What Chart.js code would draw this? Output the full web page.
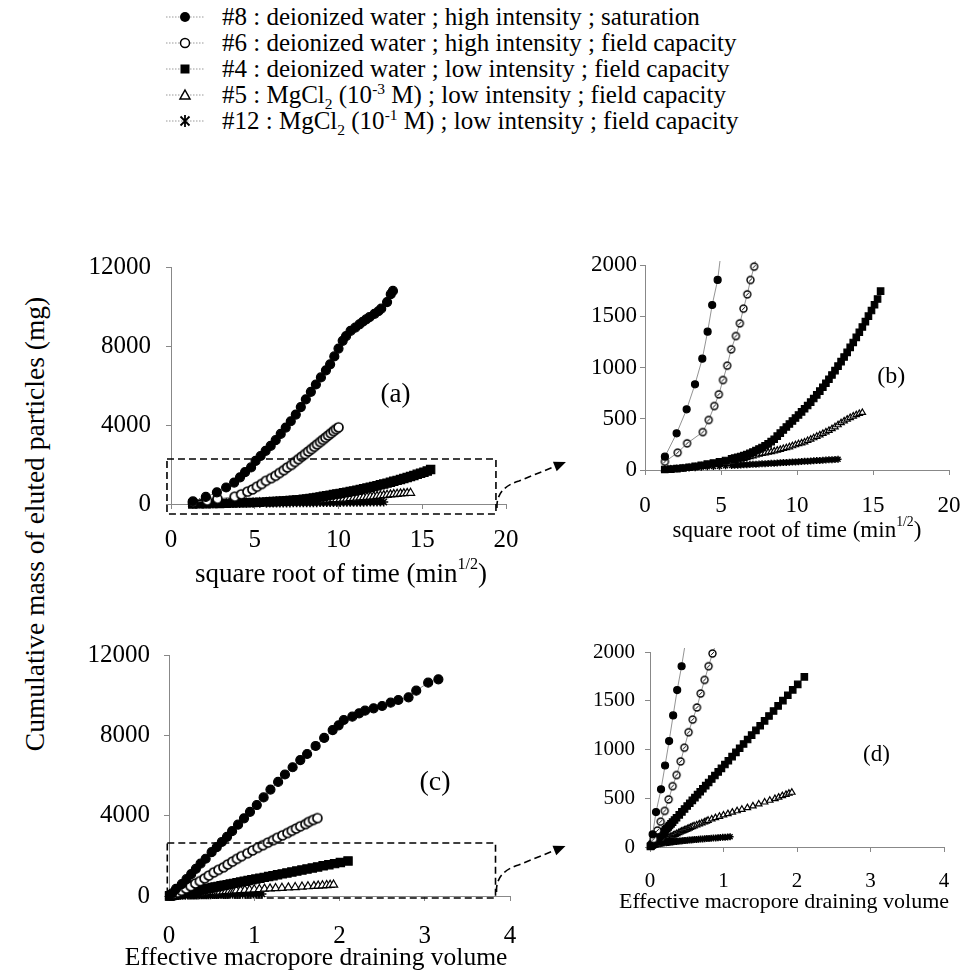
<!DOCTYPE html>
<html>
<head>
<meta charset="utf-8">
<script src="https://cdn.jsdelivr.net/npm/chart.js@4.4.1/dist/chart.umd.min.js"></script>
<style>
  body { margin: 0; background: #fff; width: 961px; height: 974px; position: relative; overflow: hidden;
         font-family: "Liberation Serif", "Times New Roman", serif; color: #000; }
  canvas { position: absolute; }
  .row { position: absolute; left: 0; height: 26px; line-height: 26px; font-size: 25px; white-space: nowrap; }
  .row svg { position: absolute; left: 165px; top: 5px; }
  .row span { position: absolute; left: 222px; top: 0; }
  sub, sup { font-size: 0.62em; line-height: 0; }
  #ytitle { position: absolute; left: 35px; top: 524px; transform: translate(-50%, -50%) rotate(-90deg);
            font-size: 27.5px; white-space: nowrap; }
</style>
</head>
<body>

<div id="legend">
  <div class="row" style="top:4px">
    <svg width="40" height="16"><line x1="1" y1="8" x2="39" y2="8" stroke="#999" stroke-dasharray="1.5,1.5"/><circle cx="20" cy="8" r="5" fill="#000"/></svg>
    <span>#8 : deionized water ; high intensity ; saturation</span></div>
  <div class="row" style="top:30px">
    <svg width="40" height="16"><line x1="1" y1="8" x2="39" y2="8" stroke="#999" stroke-dasharray="1.5,1.5"/><circle cx="20" cy="8" r="4.5" fill="#fff" stroke="#000" stroke-width="1.5"/></svg>
    <span>#6 : deionized water ; high intensity ; field capacity</span></div>
  <div class="row" style="top:56px">
    <svg width="40" height="16"><line x1="1" y1="8" x2="39" y2="8" stroke="#999" stroke-dasharray="1.5,1.5"/><rect x="15.5" y="3.5" width="9" height="9" fill="#000"/></svg>
    <span>#4 : deionized water ; low intensity ; field capacity</span></div>
  <div class="row" style="top:82px">
    <svg width="40" height="16"><line x1="1" y1="8" x2="39" y2="8" stroke="#999" stroke-dasharray="1.5,1.5"/><polygon points="20,3 25,12 15,12" fill="#fff" stroke="#000" stroke-width="1.5"/></svg>
    <span>#5 : MgCl<sub>2</sub> (10<sup>-3</sup> M) ; low intensity ; field capacity</span></div>
  <div class="row" style="top:108px">
    <svg width="40" height="16"><line x1="1" y1="8" x2="39" y2="8" stroke="#999" stroke-dasharray="1.5,1.5"/><path d="M15.5,3.5 L24.5,12.5 M24.5,3.5 L15.5,12.5 M20,2 L20,14" stroke="#000" stroke-width="1.8"/></svg>
    <span>#12 : MgCl<sub>2</sub> (10<sup>-1</sup> M) ; low intensity ; field capacity</span></div>
</div>

<div id="ytitle">Cumulative mass of eluted particles (mg)</div>

<canvas id="chartA" width="520" height="360" style="left:60px;top:250px"></canvas>
<canvas id="chartB" width="381" height="300" style="left:580px;top:250px"></canvas>
<canvas id="chartC" width="520" height="334" style="left:60px;top:640px"></canvas>
<canvas id="chartD" width="381" height="334" style="left:580px;top:640px"></canvas>

<script>
// #8 : deionized water, high intensity, saturation
const s8Sqrt = [1.31, 2.08, 2.74, 3.29, 3.77, 4.12, 4.42, 4.78, 5.05, 5.35, 5.65, 5.95, 6.25, 6.55, 6.85, 7.15, 7.45, 7.75, 8.05, 8.35,
  8.65, 8.95, 9.25, 9.5, 9.75, 10.0, 10.25, 10.45, 10.72, 11.0, 11.25, 11.45, 11.65, 11.85, 12.15, 12.38, 12.55, 12.9, 13.12, 13.25];
const s8Mass = [130, 358, 592, 836, 1086, 1350, 1610, 1854, 2180, 2430, 2690, 2940, 3230, 3550, 3870, 4190, 4530, 4910, 5300, 5680,
  6050, 6410, 6770, 7070, 7470, 7870, 8260, 8500, 8764, 8930, 9095, 9228, 9344, 9461, 9627, 9759, 9892, 10224, 10622, 10788];
const s8Vol = [0.036, 0.082, 0.15, 0.205, 0.26, 0.315, 0.37, 0.43, 0.50, 0.56, 0.62, 0.68, 0.74, 0.81, 0.88, 0.95, 1.03, 1.11, 1.19, 1.28,
  1.36, 1.45, 1.54, 1.62, 1.72, 1.82, 1.92, 1.99, 2.05, 2.15, 2.23, 2.30, 2.40, 2.50, 2.60, 2.69, 2.81, 2.90, 3.04, 3.16];

// #6 : deionized water, high intensity, field capacity
const s6Sqrt = [1.31, 2.15, 2.77, 3.80, 4.19, 4.56, 4.86, 5.13, 5.41, 5.67, 5.98, 6.24, 6.48, 6.73, 6.94, 7.18,
  7.39, 7.6, 7.8, 8.0, 8.19, 8.37, 8.55, 8.72, 8.9, 9.06, 9.22, 9.38, 9.54, 9.7, 9.85, 10.0];
const s6Mass = [81, 169, 260, 370, 488, 624, 738, 878, 1018, 1177, 1307, 1431, 1574, 1714, 1854, 1984,
  2130, 2270, 2400, 2530, 2660, 2780, 2900, 3020, 3140, 3250, 3360, 3470, 3580, 3690, 3790, 3880];
const s6Vol = [0.05, 0.10, 0.145, 0.20, 0.254, 0.308, 0.362, 0.417, 0.467, 0.525, 0.58, 0.639, 0.689, 0.743, 0.797, 0.85,
  0.92, 0.98, 1.04, 1.10, 1.16, 1.22, 1.27, 1.33, 1.39, 1.44, 1.49, 1.54, 1.60, 1.64, 1.69, 1.74];

// low intensity runs share one sampling grid (square root of time)
const lowSqrt = [1.3, 1.7, 2.1, 2.5, 2.9, 3.3, 3.7, 4.1, 4.5, 4.9, 5.3, 5.7,
  5.9, 6.1, 6.3, 6.5, 6.7, 6.9, 7.1, 7.3, 7.5, 7.7, 7.9, 8.1, 8.3, 8.5, 8.7, 8.9, 9.1, 9.3, 9.5, 9.7,
  9.9, 10.1, 10.3, 10.5, 10.7, 10.9, 11.1, 11.3, 11.5, 11.7, 11.9, 12.1, 12.3, 12.5, 12.7, 12.9, 13.1, 13.3,
  13.5, 13.7, 13.9, 14.1, 14.3, 14.5, 14.7, 14.9, 15.1, 15.3, 15.5];

// #4 : deionized water, low intensity, field capacity
const s4Mass = [5, 8, 13, 19, 27, 36, 46, 57, 68, 80, 93, 108,
  116, 124, 132, 140, 150, 162, 175, 190, 205, 220, 237, 255, 277, 300, 330, 360, 390, 420, 449, 478,
  507, 537, 567, 597, 629, 662, 697, 733, 770, 807, 846, 885, 927, 970, 1013, 1057, 1102, 1148,
  1196, 1244, 1294, 1344, 1395, 1447, 1501, 1556, 1612, 1668, 1745];
const s4Vol = [0.006, 0.01, 0.016, 0.023, 0.033, 0.043, 0.055, 0.069, 0.082, 0.096, 0.112, 0.13,
  0.14, 0.149, 0.159, 0.169, 0.181, 0.195, 0.211, 0.229, 0.247, 0.265, 0.286, 0.307, 0.334, 0.361, 0.398, 0.434, 0.47, 0.506, 0.541, 0.576,
  0.611, 0.647, 0.683, 0.719, 0.758, 0.798, 0.84, 0.883, 0.928, 0.972, 1.019, 1.066, 1.117, 1.169, 1.22, 1.273, 1.328, 1.383,
  1.441, 1.499, 1.559, 1.619, 1.681, 1.743, 1.808, 1.875, 1.942, 2.01, 2.10];

// #5 : MgCl2 1e-3 M, low intensity, field capacity
const s5Mass = [4, 7, 11, 16, 22, 29, 37, 46, 55, 64, 74, 85,
  91, 98, 105, 112, 120, 128, 136, 145, 153, 160, 166, 172, 178, 185, 192, 200, 208, 216, 225, 235,
  245, 255, 263, 272, 286, 300, 313, 327, 341, 356, 370, 385, 402, 420, 440, 460, 478, 495,
  510, 525, 538, 550, 560];
const s5Vol = [0.01, 0.02, 0.03, 0.045, 0.06, 0.08, 0.1, 0.125, 0.15, 0.175, 0.2, 0.23,
  0.245, 0.26, 0.28, 0.3, 0.32, 0.34, 0.365, 0.39, 0.41, 0.43, 0.45, 0.47, 0.49, 0.51, 0.53, 0.55, 0.575, 0.6, 0.635, 0.67,
  0.705, 0.74, 0.765, 0.79, 0.84, 0.89, 0.945, 1.0, 1.06, 1.12, 1.185, 1.25, 1.325, 1.4, 1.48, 1.56, 1.63, 1.7,
  1.75, 1.8, 1.85, 1.89, 1.93];

// #12 : MgCl2 1e-1 M, low intensity, field capacity
const s12Mass = [4, 8, 12, 15, 19, 23, 27, 31, 34, 37, 41, 44,
  46, 47, 49, 51, 52, 54, 56, 57, 59, 61, 62, 64, 66, 67, 69, 71, 72, 74, 76, 78,
  79, 81, 83, 85, 86, 88, 90, 92, 93, 95, 97, 99, 101, 103, 105];
const s12Vol = [0.011, 0.02, 0.03, 0.042, 0.057, 0.074, 0.093, 0.114, 0.137, 0.162, 0.19, 0.22,
  0.235, 0.251, 0.268, 0.285, 0.303, 0.322, 0.341, 0.36, 0.38, 0.4, 0.422, 0.443, 0.465, 0.488, 0.511, 0.535, 0.56, 0.584, 0.61, 0.636,
  0.662, 0.689, 0.717, 0.745, 0.774, 0.803, 0.832, 0.863, 0.894, 0.925, 0.957, 0.989, 1.022, 1.056, 1.09];

const serif = '"Liberation Serif", "Times New Roman", serif';
Chart.defaults.font.family = serif;
Chart.defaults.color = '#000';
Chart.defaults.animation = false;

function openCircle(r, slash) {
  const s = Math.ceil(2 * r + 4);
  const c = document.createElement('canvas');
  c.width = s; c.height = s;
  const g = c.getContext('2d');
  g.beginPath();
  g.arc(s / 2, s / 2, r, 0, Math.PI * 2);
  g.fillStyle = '#fff';
  g.fill();
  g.lineWidth = slash ? 1.4 : 1.7;
  g.strokeStyle = '#000';
  g.stroke();
  if (slash) {
    g.beginPath();
    g.moveTo(s / 2 - r * 0.4, s / 2 + r * 0.4);
    g.lineTo(s / 2 + r * 0.4, s / 2 - r * 0.4);
    g.lineWidth = 1;
    g.stroke();
  }
  return c;
}

function pts(xs, ys) {
  return ys.map((y, i) => ({ x: xs[i], y }));
}

function mk(xs, ys, extra, clip) {
  return Object.assign({
    data: pts(xs, ys),
    showLine: true,
    borderColor: '#777',
    borderWidth: 0.8,
    pointBorderColor: '#000',
    pointBorderWidth: 1.2,
    pointBackgroundColor: '#000',
    clip: clip,
  }, extra);
}

function datasets(useVol, r, clip) {
  const small = r < 4;
  return [
    mk(useVol ? s8Vol : s8Sqrt, s8Mass, { pointStyle: 'circle', pointRadius: r }, clip),
    mk(useVol ? s6Vol : s6Sqrt, s6Mass, { pointStyle: openCircle(r, small) }, clip),
    mk(useVol ? s4Vol : lowSqrt, s4Mass, { pointStyle: 'rect', pointRadius: r * 1.3 }, clip),
    mk(useVol ? s5Vol : lowSqrt, s5Mass, { pointStyle: 'triangle', pointRadius: r * 1.05, pointBackgroundColor: '#fff' }, clip),
    mk(useVol ? s12Vol : lowSqrt, s12Mass, { pointStyle: 'star', pointRadius: r, pointBorderWidth: 1.5 }, clip),
  ];
}

function drawRich(ctx, parts, cx, cy, size) {
  let total = 0;
  parts.forEach(p => {
    ctx.font = (p.sup ? size * 0.6 : size) + 'px ' + serif;
    p.w = ctx.measureText(p.t).width;
    total += p.w;
  });
  let x = cx - total / 2;
  ctx.textAlign = 'left';
  ctx.textBaseline = 'middle';
  ctx.fillStyle = '#000';
  parts.forEach(p => {
    ctx.font = (p.sup ? size * 0.6 : size) + 'px ' + serif;
    ctx.fillText(p.t, x, p.sup ? cy - size * 0.38 : cy);
    x += p.w;
  });
}

// dashed zoom box, arrow, panel letter and axis title
const decor = {
  id: 'decor',
  afterDraw(chart, args, o) {
    const ctx = chart.ctx, xs = chart.scales.x, ys = chart.scales.y;
    ctx.save();
    if (o.box) {
      const l = xs.getPixelForValue(o.box[0]), r = xs.getPixelForValue(o.box[1]);
      const b = ys.getPixelForValue(o.box[2]), t = ys.getPixelForValue(o.box[3]);
      ctx.strokeStyle = '#000';
      ctx.lineWidth = 1.6;
      ctx.setLineDash([7, 4]);
      ctx.strokeRect(l, t, r - l, b - t);
      const tipX = r + 70, tipY = b - 52, midX = r + 23, midY = b - 33;
      ctx.beginPath();
      ctx.moveTo(r + 1, b - 6);
      ctx.quadraticCurveTo(r, b - 26, midX, midY);
      const ang = Math.atan2(tipY - midY, tipX - midX);
      ctx.lineTo(tipX - 9 * Math.cos(ang), tipY - 9 * Math.sin(ang));
      ctx.stroke();
      ctx.setLineDash([]);
      ctx.beginPath();
      ctx.moveTo(tipX, tipY);
      ctx.lineTo(tipX - 12 * Math.cos(ang) + 5 * Math.sin(ang), tipY - 12 * Math.sin(ang) - 5 * Math.cos(ang));
      ctx.lineTo(tipX - 12 * Math.cos(ang) - 5 * Math.sin(ang), tipY - 12 * Math.sin(ang) + 5 * Math.cos(ang));
      ctx.closePath();
      ctx.fillStyle = '#000';
      ctx.fill();
    }
    if (o.label) {
      ctx.font = o.label.size + 'px ' + serif;
      ctx.textAlign = 'center';
      ctx.textBaseline = 'middle';
      ctx.fillStyle = '#000';
      ctx.fillText(o.label.text, xs.getPixelForValue(o.label.x), ys.getPixelForValue(o.label.y));
    }
    if (o.title) drawRich(ctx, o.title.parts, o.title.cx, o.title.cy, o.title.size);
    ctx.restore();
  },
};

function axis(max, step, fontSize, pad, fitSize, isX) {
  return {
    type: 'linear',
    min: 0,
    max: max,
    ticks: { stepSize: step, font: { size: fontSize }, color: '#000', padding: pad, callback: v => String(v) },
    grid: { drawOnChartArea: false, drawTicks: true, tickLength: 5, color: '#888' },
    border: { display: true, color: '#888', width: 1, dash: [1, 2] },
    afterFit(scale) {
      if (isX) scale.height = fitSize; else scale.width = fitSize;
      // let layout.padding alone decide where the plot area sits
      scale.paddingTop = 0; scale.paddingBottom = 0;
      scale.paddingLeft = 0; scale.paddingRight = 0;
    },
  };
}

function makeChart(id, cfg) {
  return new Chart(document.getElementById(id), {
    type: 'scatter',
    data: { datasets: datasets(cfg.vol, cfg.r, cfg.clip) },
    options: {
      responsive: false,
      animation: false,
      layout: { padding: { top: cfg.padTop, right: cfg.padRight, left: 0, bottom: 0 } },
      scales: {
        x: axis(cfg.xMax, cfg.xStep, cfg.tickSize, cfg.xPad, cfg.xFit, true),
        y: axis(cfg.yMax, cfg.yStep, cfg.tickSize, cfg.yPad, cfg.yFit, false),
      },
      plugins: {
        legend: { display: false },
        tooltip: { enabled: false },
        decor: cfg.decor,
      },
    },
    plugins: [decor],
  });
}

const timeTitle = () => [{ t: 'square root of time (min' }, { t: '1/2', sup: true }, { t: ')' }];
const volTitle = () => [{ t: 'Effective macropore draining volume' }];
const clipTop = { left: false, right: false, bottom: false, top: 4 };

makeChart('chartA', {
  vol: false, r: 4.5, clip: false,
  padTop: 17, padRight: 74, xFit: 106, yFit: 111,
  xMax: 20, xStep: 5, yMax: 12000, yStep: 4000, tickSize: 25, xPad: 16, yPad: 15,
  decor: {
    box: [-0.24, 19.4, -506, 2280],
    label: { text: '(a)', x: 13.4, y: 5500, size: 27 },
    title: { parts: timeTitle(), cx: 281, cy: 325, size: 27 },
  },
});

makeChart('chartB', {
  vol: false, r: 3.5, clip: clipTop,
  padTop: 15, padRight: 12, xFit: 80, yFit: 65,
  xMax: 20, xStep: 5, yMax: 2000, yStep: 500, tickSize: 23, xPad: 17, yPad: 3,
  decor: {
    label: { text: '(b)', x: 16.2, y: 910, size: 24 },
    title: { parts: timeTitle(), cx: 217, cy: 281, size: 23 },
  },
});

makeChart('chartC', {
  vol: true, r: 4.5, clip: false,
  padTop: 15, padRight: 70, xFit: 78, yFit: 109,
  xMax: 4, xStep: 1, yMax: 12000, yStep: 4000, tickSize: 25, xPad: 20, yPad: 14,
  decor: {
    box: [-0.02, 3.83, -100, 2640],
    label: { text: '(c)', x: 3.12, y: 5630, size: 28 },
    title: { parts: volTitle(), cx: 256, cy: 318, size: 25.5 },
  },
});

makeChart('chartD', {
  vol: true, r: 3.5, clip: clipTop,
  padTop: 12, padRight: 17, xFit: 127, yFit: 70,
  xMax: 4, xStep: 1, yMax: 2000, yStep: 500, tickSize: 21, xPad: 17, yPad: 10,
  decor: {
    label: { text: '(d)', x: 3.08, y: 944, size: 23 },
    title: { parts: volTitle(), cx: 204, cy: 262, size: 22 },
  },
});
</script>
</body>
</html>
